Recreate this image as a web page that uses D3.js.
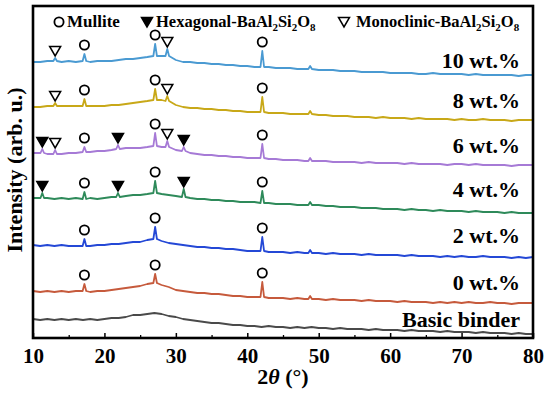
<!DOCTYPE html>
<html>
<head>
<meta charset="utf-8">
<title>XRD patterns</title>
<script src="https://d3js.org/d3.v7.min.js"></script>
<style>
body { margin: 0; background: #fff; }
svg text { font-family: "Liberation Serif", "Times New Roman", serif; font-weight: bold; fill: #000; }
</style>
</head>
<body>
<div id="chart"></div>
<script>
// 2theta grid of the background profiles (1 degree step)
var angles = d3.range(10, 81);

var names = ["Basic binder", "0 wt.%", "2 wt.%", "4 wt.%", "6 wt.%", "8 wt.%", "10 wt.%"];
var colors = ["#4a4a4a", "#c65a3c", "#2448d6", "#2e8a5a", "#a67ad6", "#c8a818", "#4a9ad2"];

// stacked intensities (a.u.), one value per degree from 10 to 80
var base0 = [19,18,19,18,19,18,19,18,19,18,19,20,20,21,23,23,24,25,24,22,21,19,18,17,16,15,15,14,13,13,12,12,11,12,11,11,10,11,10,11,10,10,9,10,9,9,9,8,9,8,8,8,7,8,7,7,7,6,7,6,6,6,5,6,5,5,5,4,5,4,4];
var base1 = [47,46,47,46,47,46,47,47,46,47,47,48,49,50,51,52,54,55,53,51,48,47,46,45,45,44,44,43,42,42,41,41,41,40,40,40,39,40,39,40,39,38,39,38,38,38,37,38,37,37,37,36,37,36,36,36,35,36,35,36,35,36,35,35,36,35,35,34,35,35,35];
var base2 = [93,92,93,92,93,92,92,93,92,93,93,94,94,95,96,96,98,99,97,95,94,93,92,91,91,90,90,89,89,88,87,87,87,86,86,86,85,86,85,85,85,84,85,84,84,84,83,84,83,83,83,83,82,83,82,82,82,81,82,81,82,81,81,82,81,81,81,80,81,80,81];
var base3 = [140,139,140,139,140,139,140,139,140,139,140,141,142,142,143,143,144,145,144,143,142,141,140,139,139,138,138,137,137,136,136,136,135,135,134,134,134,133,133,133,133,132,132,131,131,131,130,130,130,129,129,129,128,129,128,128,127,128,127,127,127,126,127,126,126,126,125,126,125,125,125];
var base4 = [185,185,184,185,184,185,185,186,186,187,187,188,190,190,190,190,191,192,191,189,188,187,185,184,183,183,182,182,181,181,180,180,180,179,179,178,178,178,177,177,177,177,176,176,176,176,175,176,175,175,175,175,174,175,174,174,174,174,173,174,174,173,174,173,173,173,173,172,173,173,173];
var base5 = [231,231,232,232,232,232,232,232,232,232,232,233,233,234,235,236,237,238,238,235,233,231,230,230,229,229,228,228,227,227,226,226,226,225,225,225,224,224,224,223,223,223,222,222,222,221,221,221,220,221,220,220,220,219,220,219,219,219,219,218,219,218,218,219,218,218,218,217,218,218,218];
var base6 = [276,276,277,277,276,277,276,277,276,277,277,277,278,279,279,280,281,282,282,280,278,276,276,275,275,274,274,273,273,272,272,271,271,271,270,270,270,269,269,269,268,268,268,267,267,267,266,266,266,266,265,265,265,265,264,264,265,264,264,264,264,263,264,263,263,263,263,263,262,263,263];
var bases = [base0, base1, base2, base3, base4, base5, base6];

// sharp reflections: [2theta, top, foot]
var peaks0 = [];
var peaks1 = [[17.2,54,47],[27.1,64,55],[42.1,56,41],[48.8,42,39]];
var peaks2 = [[17.2,99,92],[27.1,111,99],[42.1,101,87],[48.8,88,85]];
var peaks3 = [[11.3,145,140],[17.2,146,139],[21.9,145,141],[27.1,157,145],[31.1,149,141],[42.1,147,135],[48.8,136,133]];
var peaks4 = [[11.3,189,185],[13.1,188,184],[17.2,191,186],[21.9,193,189],[27.1,205,192],[28.8,197,191],[31.1,191,187],[42.1,194,180],[48.8,180,177]];
var peaks5 = [[13.1,235,232],[17.2,239,232],[27.1,249,238],[28.8,242,237],[42.1,241,226],[48.8,227,224]];
var peaks6 = [[13.1,280,277],[17.2,284,277],[27.1,294,282],[28.8,289,282],[42.1,287,271],[48.8,272,269]];
var peaks = [peaks0, peaks1, peaks2, peaks3, peaks4, peaks5, peaks6];

// phase marks: M = mullite, H = hexagonal, C = monoclinic
var marks0 = [];
var marks1 = [["M",17.2],["M",27.1],["M",42.1]];
var marks2 = [["M",17.2],["M",27.1],["M",42.1]];
var marks3 = [["H",11.3],["M",17.2],["H",21.9],["M",27.1],["H",31.1],["M",42.1]];
var marks4 = [["H",11.3],["C",13.1],["M",17.2],["H",21.9],["M",27.1],["C",28.8],["H",31.1],["M",42.1]];
var marks5 = [["C",13.1],["M",17.2],["M",27.1],["C",28.8],["M",42.1]];
var marks6 = [["C",13.1],["M",17.2],["M",27.1],["C",28.8],["M",42.1]];
var marks = [marks0, marks1, marks2, marks3, marks4, marks5, marks6];

// label baselines in a.u.
var labelLevel = [11, 48, 95, 141, 185, 230, 270];

var xTicks = [10, 20, 30, 40, 50, 60, 70, 80];

var W = 550, H = 393;
var margin = {top: 6, right: 17, bottom: 55, left: 33};

var svg = d3.select("#chart").append("svg")
    .attr("width", W)
    .attr("height", H);

var x = d3.scaleLinear().domain([10, 80]).range([margin.left, W - margin.right]);
var y = d3.scaleLinear().domain([0, 332]).range([H - margin.bottom, margin.top]);

var line = d3.line()
    .x(function(d) { return x(d[0]); })
    .y(function(d) { return y(d[1]); });

// traces
names.forEach(function(name, i) {
  var pk = peaks[i];
  var pts = angles.map(function(a, j) { return [a, bases[i][j]]; })
    .filter(function(p) {
      return !pk.some(function(k) { return Math.abs(p[0] - k[0]) < 0.4; });
    });
  pk.forEach(function(k) {
    pts.push([k[0] - 0.25, k[2]]);
    pts.push([k[0], k[1]]);
    pts.push([k[0] + 0.25, k[2]]);
  });
  pts.sort(function(a, b) { return a[0] - b[0]; });

  svg.append("path")
    .datum(pts)
    .attr("fill", "none")
    .attr("stroke", colors[i])
    .attr("stroke-width", 1.8)
    .attr("stroke-linejoin", "round")
    .attr("d", line);

  svg.append("text")
    .attr("x", 520)
    .attr("y", y(labelLevel[i]))
    .attr("text-anchor", "end")
    .style("font-size", "22px")
    .text(name);
});

// phase symbols
var tri = "M-5.5,-4.5L5.5,-4.5L0,5Z";
function drawMark(g, type, cx, cy) {
  if (type == "M") {
    g.append("circle").attr("cx", cx).attr("cy", cy).attr("r", 4.6)
      .attr("fill", "none").attr("stroke", "#000").attr("stroke-width", 1.8);
  } else {
    g.append("path").attr("d", tri)
      .attr("transform", "translate(" + cx + "," + cy + ")")
      .attr("fill", type == "H" ? "#000" : "#fff")
      .attr("stroke", "#000").attr("stroke-width", 1.5)
      .attr("stroke-linejoin", "miter");
  }
}

var markG = svg.append("g");
marks.forEach(function(list, i) {
  list.forEach(function(m) {
    var top = peaks[i].find(function(k) { return k[0] == m[1]; })[1];
    var gap = m[0] == "M" ? 9 : 7;
    drawMark(markG, m[0], x(m[1]), y(top) - gap);
  });
});

// frame
svg.append("rect")
  .attr("x", margin.left)
  .attr("y", margin.top)
  .attr("width", W - margin.left - margin.right)
  .attr("height", H - margin.top - margin.bottom)
  .attr("fill", "none")
  .attr("stroke", "#000")
  .attr("stroke-width", 2.6);

// bottom axis with inner ticks
var xAxis = svg.append("g")
  .attr("transform", "translate(0," + (H - margin.bottom) + ")")
  .call(d3.axisBottom(x).tickValues(xTicks).tickSizeInner(-5).tickSizeOuter(0).tickPadding(10));
xAxis.select(".domain").remove();
xAxis.selectAll(".tick line").attr("stroke-width", 1.5);
xAxis.selectAll("text").style("font-size", "21px").attr("dy", "0.71em");

var minor = svg.append("g")
  .attr("transform", "translate(0," + (H - margin.bottom) + ")")
  .call(d3.axisBottom(x).tickValues([15, 25, 35, 45, 55, 65, 75]).tickSize(-3).tickFormat(""));
minor.select(".domain").remove();
minor.selectAll(".tick line").attr("stroke-width", 1.3);

// axis titles
var xt = svg.append("text")
  .attr("x", (margin.left + W - margin.right) / 2)
  .attr("y", 384)
  .attr("text-anchor", "middle")
  .style("font-size", "22px");
xt.append("tspan").text("2");
xt.append("tspan").style("font-style", "italic").text("θ");
xt.append("tspan").text(" (°)");

svg.append("text")
  .attr("transform", "translate(22,170) rotate(-90)")
  .attr("text-anchor", "middle")
  .style("font-size", "22px")
  .text("Intensity (arb. u.)");

// legend
var leg = svg.append("g");
drawMark(leg, "M", 59, 22);
leg.append("text").attr("x", 67).attr("y", 27).style("font-size", "17px").text("Mullite");

function formulaLabel(g, xpos, prefix) {
  var t = g.append("text").attr("x", xpos).attr("y", 27).style("font-size", "16.5px");
  var parts = [[prefix + "-BaAl", 0], ["2", 1], ["Si", 0], ["2", 1], ["O", 0], ["8", 1]];
  parts.forEach(function(p, j) {
    var s = t.append("tspan").text(p[0]);
    if (p[1]) s.style("font-size", "11px").attr("dy", 4);
    else if (j > 0) s.attr("dy", -4);
  });
}
drawMark(leg, "H", 147, 22);
formulaLabel(leg, 156, "Hexagonal");
drawMark(leg, "C", 344, 22);
formulaLabel(leg, 356, "Monoclinic");
</script>
</body>
</html>
